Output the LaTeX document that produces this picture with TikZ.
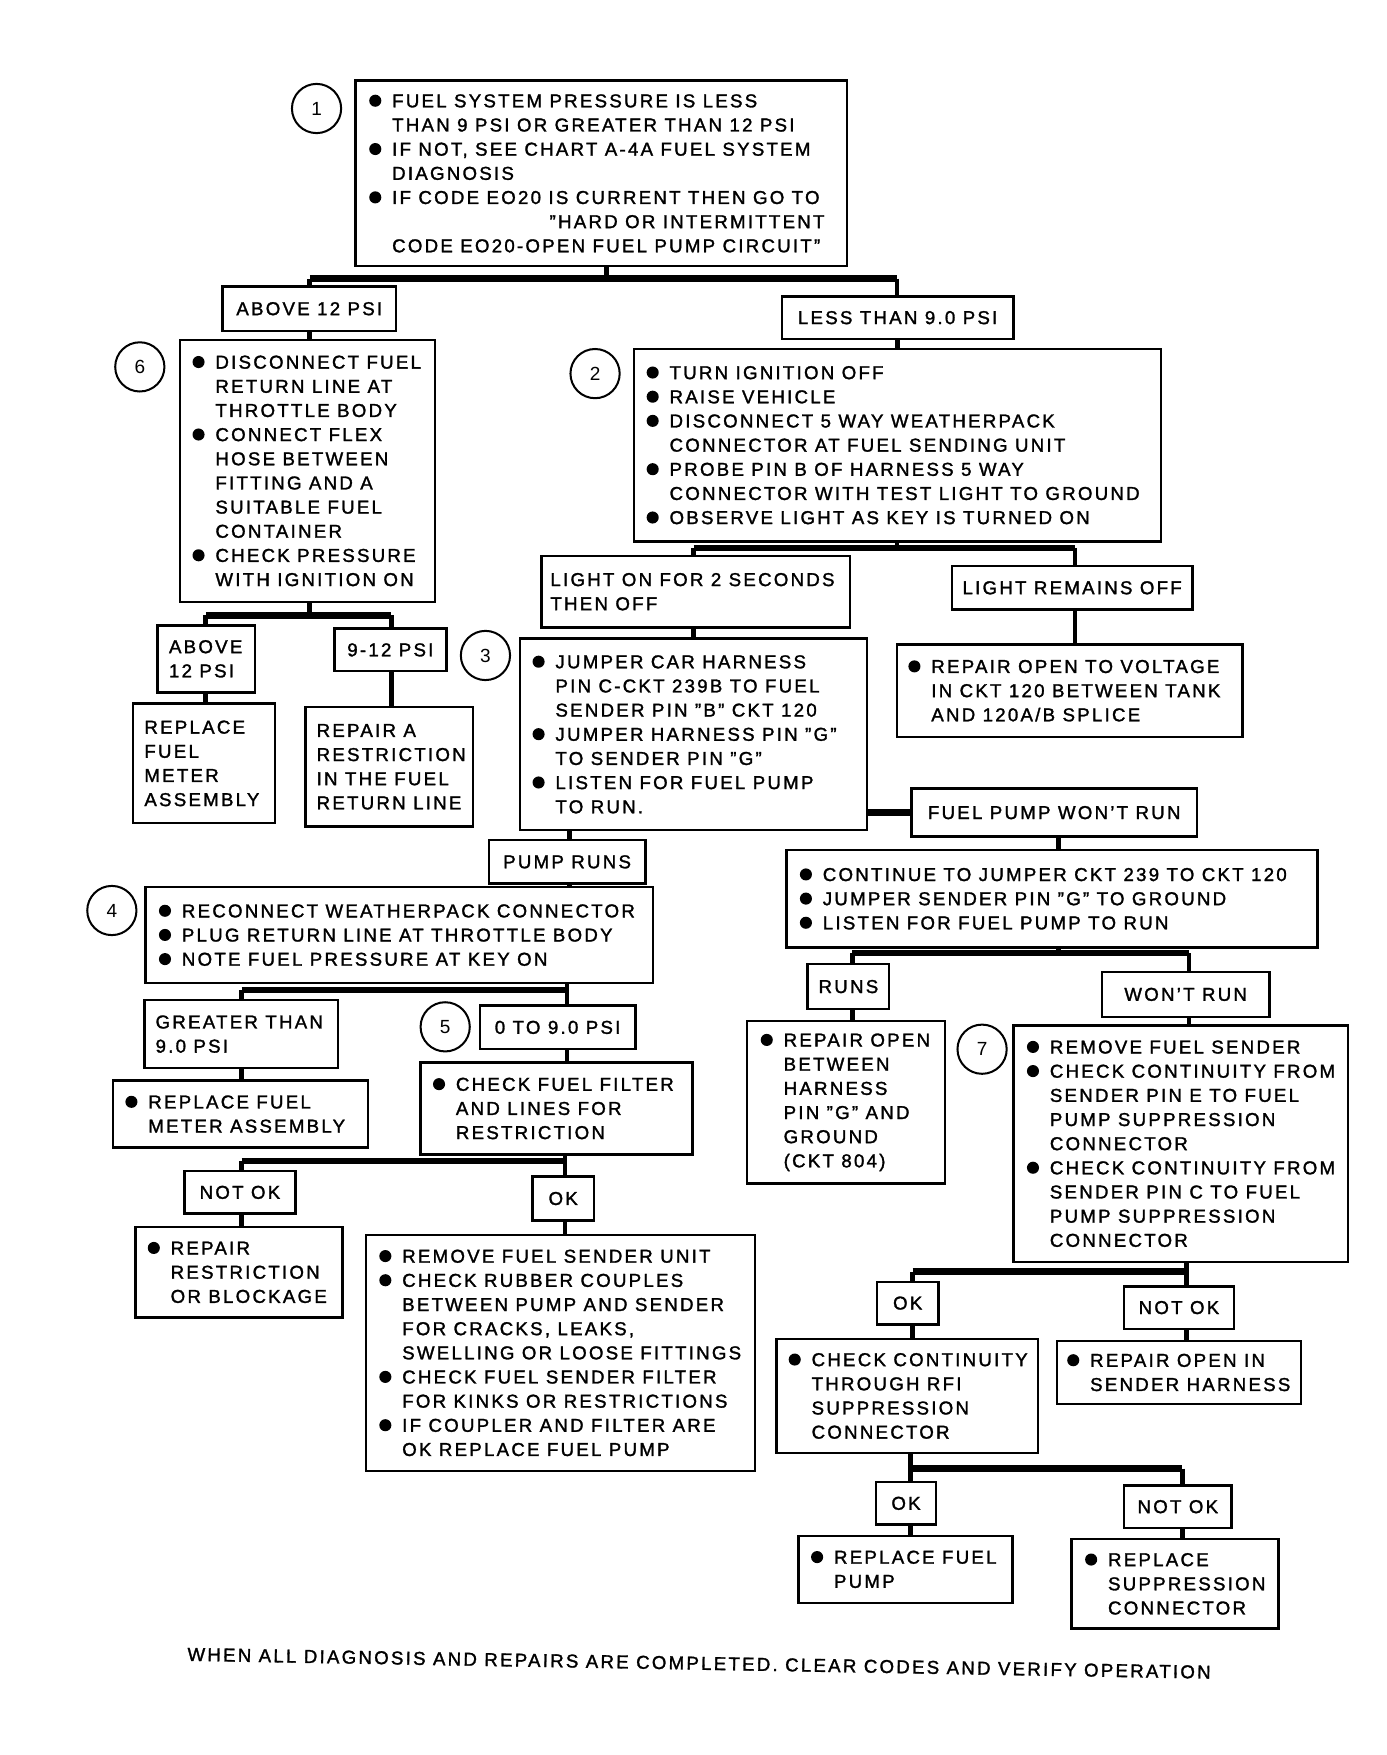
\documentclass[tikz,border=0pt]{standalone}
\usepackage{fontspec}
\setmainfont{Liberation Sans}[LetterSpace=12,FakeBold=1.5]
\newfontfamily\numfamily{Liberation Sans}
\newcommand\chartfont{\fontsize{16.7}{21.6}\selectfont}
\newcommand\bul{\makebox[20.5pt][l]{\tikz[baseline=0pt]\fill[black] (5.6pt,5.9pt) circle (5.4pt);}}
\newcommand\ind{\hspace*{20.5pt}}
\newcommand\q{\char"22\relax}
\tikzset{
  box/.style={draw, line width=2.2pt, inner sep=0pt, rectangle},
  lab/.style={box, font=\chartfont, align=center},
  txt/.style={inner sep=0pt, align=left, font=\chartfont},
  num/.style={draw, circle, line width=1.8pt, minimum size=44pt, inner sep=0pt, font=\numfamily\fontsize{17}{17}\selectfont},
  stem/.style={line width=4.2pt},
  bar/.style={line width=6pt},
}
% text box: name, x1, y1, x2, y2, margin, content
\newcommand\tbox[7]{%
  \node[box, minimum width={#4-#2}, minimum height={#5-#3}] (#1) at ({(#2+#4)/2},{(#3+#5)/2}) {};
  \node[txt, anchor=west] (#1t) at ([xshift=#6pt]#1.west) {#7};
}
% label box: name, x1, y1, x2, y2, text
\newcommand\lbox[6]{%
  \node[lab, minimum width={#4-#2}, minimum height={#5-#3}] (#1) at ({(#2+#4)/2},{(#3+#5)/2}) {#6};
}
\begin{document}
\begin{tikzpicture}[x=1pt,y=-1pt]
\useasboundingbox (0,0) rectangle (1240,1569);
\fill[white] (0,0) rectangle (1240,1569);

% ---- boxes ----
\tbox{b1}{318}{72}{757}{238}{13}{%
\bul FUEL SYSTEM PRESSURE IS LESS\\
\ind THAN 9 PSI OR GREATER THAN 12 PSI\\
\bul IF NOT, SEE CHART A-4A FUEL SYSTEM\\
\ind DIAGNOSIS\\
\bul IF CODE EO20 IS CURRENT THEN GO TO\\
\makebox[407pt][r]{\q HARD OR INTERMITTENT}\\
\ind CODE EO20-OPEN FUEL PUMP CIRCUIT\q}
\node[num] (c1) at (283,97) {1};

\lbox{above12}{199}{256}{354}{296}{ABOVE 12 PSI}
\lbox{less9}{699}{265}{906}{303}{LESS THAN 9.0 PSI}

\tbox{b6}{161}{304}{389}{538}{12}{%
\bul DISCONNECT FUEL\\
\ind RETURN LINE AT\\
\ind THROTTLE BODY\\
\bul CONNECT FLEX\\
\ind HOSE BETWEEN\\
\ind FITTING AND A\\
\ind SUITABLE FUEL\\
\ind CONTAINER\\
\bul CHECK PRESSURE\\
\ind WITH IGNITION ON}
\node[num] (c6) at (125,328) {6};

\tbox{b2}{567}{312}{1038}{484}{12}{%
\bul TURN IGNITION OFF\\
\bul RAISE VEHICLE\\
\bul DISCONNECT 5 WAY WEATHERPACK\\
\ind CONNECTOR AT FUEL SENDING UNIT\\
\bul PROBE PIN B OF HARNESS 5 WAY\\
\ind CONNECTOR WITH TEST LIGHT TO GROUND\\
\bul OBSERVE LIGHT AS KEY IS TURNED ON}
\node[num] (c2) at (532,334) {2};

\tbox{lighton}{484}{497}{760}{561}{9}{LIGHT ON FOR 2 SECONDS\\THEN OFF}
\lbox{lightoff}{851}{506}{1066}{545}{LIGHT REMAINS OFF}

\tbox{above12b}{141}{559}{228}{619}{11}{ABOVE\\12 PSI}
\lbox{psi912}{299}{562}{399}{600}{9-12 PSI}
\node[num] (c3) at (434,586) {3};

\tbox{b3}{465}{571}{775}{742}{12}{%
\bul JUMPER CAR HARNESS\\
\ind PIN C-CKT 239B TO FUEL\\
\ind SENDER PIN \q B\q{} CKT 120\\
\bul JUMPER HARNESS PIN \q G\q\\
\ind TO SENDER PIN \q G\q\\
\bul LISTEN FOR FUEL PUMP\\
\ind TO RUN.}

\tbox{replmeter}{119}{629}{246}{736}{11}{REPLACE\\FUEL\\METER\\ASSEMBLY}
\tbox{repairA}{273}{632}{423}{739}{11}{REPAIR A\\RESTRICTION\\IN THE FUEL\\RETURN LINE}

\tbox{repvolt}{802}{576}{1111}{659}{11}{%
\bul REPAIR OPEN TO VOLTAGE\\
\ind IN CKT 120 BETWEEN TANK\\
\ind AND 120A/B SPLICE}

\lbox{fpwr}{815}{705}{1070}{748}{FUEL PUMP WON'T RUN}
\lbox{pumpruns}{437}{751}{577}{790}{PUMP RUNS}

\tbox{b4}{130}{793}{584}{879}{13}{%
\bul RECONNECT WEATHERPACK CONNECTOR\\
\bul PLUG RETURN LINE AT THROTTLE BODY\\
\bul NOTE FUEL PRESSURE AT KEY ON}
\node[num] (c4) at (100,814) {4};

\tbox{cont}{703}{760}{1178}{847}{13}{%
\bul CONTINUE TO JUMPER CKT 239 TO CKT 120\\
\bul JUMPER SENDER PIN \q G\q{} TO GROUND\\
\bul LISTEN FOR FUEL PUMP TO RUN}

\tbox{gt9}{129}{894}{302}{955}{11}{GREATER THAN\\9.0 PSI}
\lbox{zero9}{429}{899}{568}{938}{0 TO 9.0 PSI}
\node[num] (c5) at (398,918) {5};

\lbox{runs}{722}{862}{795}{902}{RUNS}
\lbox{wontrun}{985}{869}{1135}{909}{WON'T RUN}

\tbox{replmeter2}{101}{966}{329}{1026}{12}{%
\bul REPLACE FUEL\\
\ind METER ASSEMBLY}
\tbox{checkfilter}{376}{950}{619}{1032}{12}{%
\bul CHECK FUEL FILTER\\
\ind AND LINES FOR\\
\ind RESTRICTION}

\tbox{repbetween}{668}{913}{845}{1058}{13}{%
\bul REPAIR OPEN\\
\ind BETWEEN\\
\ind HARNESS\\
\ind PIN \q G\q{} AND\\
\ind GROUND\\
\ind (CKT 804)}
\node[num] (c7) at (878,938) {7};

\tbox{b7}{906}{917}{1205}{1128}{13}{%
\bul REMOVE FUEL SENDER\\
\bul CHECK CONTINUITY FROM\\
\ind SENDER PIN E TO FUEL\\
\ind PUMP SUPPRESSION\\
\ind CONNECTOR\\
\bul CHECK CONTINUITY FROM\\
\ind SENDER PIN C TO FUEL\\
\ind PUMP SUPPRESSION\\
\ind CONNECTOR}

\lbox{notok1}{165}{1047}{264}{1085}{NOT OK}
\lbox{ok1}{476}{1052}{531}{1091}{OK}

\tbox{represtr}{121}{1097}{306}{1178}{12}{%
\bul REPAIR\\
\ind RESTRICTION\\
\ind OR BLOCKAGE}

\tbox{remsender}{327}{1104}{675}{1315}{13}{%
\bul REMOVE FUEL SENDER UNIT\\
\bul CHECK RUBBER COUPLES\\
\ind BETWEEN PUMP AND SENDER\\
\ind FOR CRACKS, LEAKS,\\
\ind SWELLING OR LOOSE FITTINGS\\
\bul CHECK FUEL SENDER FILTER\\
\ind FOR KINKS OR RESTRICTIONS\\
\bul IF COUPLER AND FILTER ARE\\
\ind OK REPLACE FUEL PUMP}

\lbox{ok2}{784}{1146}{839}{1184}{OK}
\lbox{notok2}{1005}{1150}{1103}{1188}{NOT OK}

\tbox{checkrfi}{694}{1197}{928}{1299}{12}{%
\bul CHECK CONTINUITY\\
\ind THROUGH RFI\\
\ind SUPPRESSION\\
\ind CONNECTOR}
\tbox{repharn}{945}{1199}{1163}{1255}{10}{%
\bul REPAIR OPEN IN\\
\ind SENDER HARNESS}

\lbox{ok3}{783}{1325}{837}{1363}{OK}
\lbox{notok3}{1005}{1328}{1101}{1366}{NOT OK}

\tbox{replpump}{714}{1373}{905}{1433}{12}{%
\bul REPLACE FUEL\\
\ind PUMP}
\tbox{replsupp}{958}{1376}{1143}{1456}{13}{%
\bul REPLACE\\
\ind SUPPRESSION\\
\ind CONNECTOR}

\node[txt, rotate=-1] (footer) at (625,1487) {WHEN ALL DIAGNOSIS AND REPAIRS ARE COMPLETED. CLEAR CODES AND VERIFY OPERATION};

% ---- connectors ----
\coordinate (jA0) at (542,249);
\coordinate (jA1) at (277,249);
\coordinate (jA2) at (802,249);
\draw[stem] (jA0 |- b1.south) -- (jA0);
\draw[bar] (jA1) -- (jA2);
\draw[stem] (jA1) -- (jA1 |- above12.north);
\draw[stem] (jA2) -- (jA2 |- less9.north);
\draw[stem] (above12.south) -- (above12.south |- b6.north);
\draw[stem] (less9.south) -- (less9.south |- b2.north);
\coordinate (jD0) at (802,490);
\coordinate (jD1) at (620,490);
\coordinate (jD2) at (961,490);
\draw[stem] (jD0 |- b2.south) -- (jD0);
\draw[bar] (jD1) -- (jD2);
\draw[stem] (jD1) -- (jD1 |- lighton.north);
\draw[stem] (jD2) -- (jD2 |- lightoff.north);
\coordinate (jE0) at (277,550);
\coordinate (jE1) at (184,550);
\coordinate (jE2) at (350,550);
\draw[stem] (jE0 |- b6.south) -- (jE0);
\draw[bar] (jE1) -- (jE2);
\draw[stem] (jE1) -- (jE1 |- above12b.north);
\draw[stem] (jE2) -- (jE2 |- psi912.north);
\draw[stem] (jE1 |- above12b.south) -- (jE1 |- replmeter.north);
\draw[stem] (jE2 |- psi912.south) -- (jE2 |- repairA.north);
\draw[stem] (jD1 |- lighton.south) -- (jD1 |- b3.north);
\draw[stem] (jD2 |- lightoff.south) -- (jD2 |- repvolt.north);
\draw[bar] (b3.east |- fpwr.west) -- (fpwr.west);
\coordinate (jI) at (509,760);
\draw[stem] (jI |- b3.south) -- (jI |- pumpruns.north);
\draw[stem] (jI |- pumpruns.south) -- (jI |- b4.north);
\coordinate (jJ) at (946,760);
\draw[stem] (jJ |- fpwr.south) -- (jJ |- cont.north);
\coordinate (jK1) at (216,885);
\coordinate (jK2) at (507,885);
\draw[stem] (jK2 |- b4.south) -- (jK2 |- zero9.north);
\draw[bar] (jK1) -- (jK2);
\draw[stem] (jK1) -- (jK1 |- gt9.north);
\draw[stem] (jK1 |- gt9.south) -- (jK1 |- replmeter2.north);
\draw[stem] (jK2 |- zero9.south) -- (jK2 |- checkfilter.north);
\coordinate (jM1) at (216,1038);
\coordinate (jM2) at (505,1038);
\draw[stem] (jM2 |- checkfilter.south) -- (jM2 |- ok1.north);
\draw[bar] (jM1) -- (jM2);
\draw[stem] (jM1) -- (jM1 |- notok1.north);
\draw[stem] (jM1 |- notok1.south) -- (jM1 |- represtr.north);
\draw[stem] (jM2 |- ok1.south) -- (jM2 |- remsender.north);
\coordinate (jO0) at (946,852);
\coordinate (jO1) at (762,852);
\coordinate (jO2) at (1063,852);
\draw[stem] (jO0 |- cont.south) -- (jO0);
\draw[bar] (jO1) -- (jO2);
\draw[stem] (jO1) -- (jO1 |- runs.north);
\draw[stem] (jO2) -- (jO2 |- wontrun.north);
\draw[stem] (jO1 |- runs.south) -- (jO1 |- repbetween.north);
\draw[stem] (jO2 |- wontrun.south) -- (jO2 |- b7.north);
\coordinate (jQ1) at (816,1137);
\coordinate (jQ2) at (1061,1137);
\draw[stem] (jQ2 |- b7.south) -- (jQ2 |- notok2.north);
\draw[bar] (jQ1) -- (jQ2);
\draw[stem] (jQ1) -- (jQ1 |- ok2.north);
\draw[stem] (jQ1 |- ok2.south) -- (jQ1 |- checkrfi.north);
\draw[stem] (jQ2 |- notok2.south) -- (jQ2 |- repharn.north);
\coordinate (jS1) at (814,1313);
\coordinate (jS2) at (1057,1313);
\draw[stem] (jS1 |- checkrfi.south) -- (jS1 |- ok3.north);
\draw[bar] (jS1) -- (jS2);
\draw[stem] (jS2) -- (jS2 |- notok3.north);
\draw[stem] (jS1 |- ok3.south) -- (jS1 |- replpump.north);
\draw[stem] (jS2 |- notok3.south) -- (jS2 |- replsupp.north);
\end{tikzpicture}
\end{document}
